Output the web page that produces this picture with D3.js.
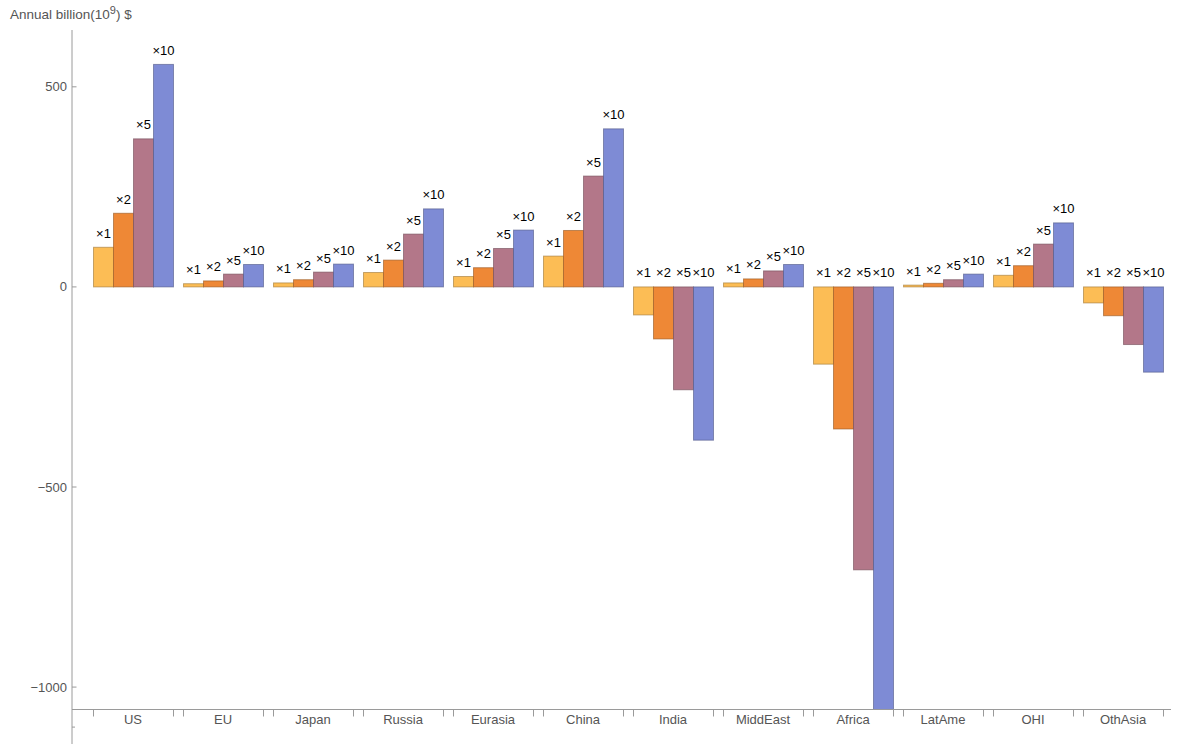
<!DOCTYPE html>
<html>
<head>
<meta charset="utf-8">
<script src="https://cdn.jsdelivr.net/npm/d3@7"></script>
<style>
  html, body { margin: 0; padding: 0; background: #fff; }
  svg text { font-family: "Liberation Sans", Arial, sans-serif; }
</style>
</head>
<body>
<svg id="chart" width="1177" height="744"></svg>
<script>
const categories = ["US","EU","Japan","Russia","Eurasia","China","India","MiddEast","Africa","LatAme","OHI","OthAsia"];
const seriesNames = ["×1","×2","×5","×10"];
const seriesColors = ["#FCBD55","#EE8836","#B37789","#7E8BD5"];
const valuesX1  = [99, 8, 10, 36, 26, 77, -70, 10, -193, 4.5, 29, -40];
const valuesX2  = [184, 15, 18, 67, 48, 141, -130, 20, -355, 9, 53, -72];
const valuesX5  = [370, 32, 37, 132, 96, 277, -257, 40, -707, 18, 107, -144];
const valuesX10 = [556, 56, 57, 195, 142, 395, -383, 56, -1100, 32, 160, -213];
const yTicks = [-1000, -500, 0, 500];
const allSeries = [valuesX1, valuesX2, valuesX5, valuesX10];

const svg = d3.select("#chart");
const axisColor = "#9a9a9a";
const labelColor = "#555";

const y = d3.scaleLinear().domain([-1056, 642]).range([709.5, 30]);
const x = d3.scaleBand().domain(categories).range([93, 1163]).paddingInner(1/9).paddingOuter(0);
const xs = d3.scaleBand().domain(d3.range(seriesNames.length)).range([0, x.bandwidth()]).padding(0);

const plotTop = y.range()[1], plotBottom = y.range()[0];

svg.append("defs").append("clipPath").attr("id", "clip")
  .append("rect").attr("x", 72).attr("y", plotTop - 40).attr("width", 1110).attr("height", plotBottom - plotTop + 40);

const data = [];
categories.forEach((c, i) => {
  allSeries.forEach((vals, j) => {
    data.push({cat: c, s: j, v: vals[i]});
  });
});

const g = svg.append("g").attr("clip-path", "url(#clip)");
g.selectAll("rect.bar").data(data).enter().append("rect")
  .attr("class", "bar")
  .attr("x", d => x(d.cat) + xs(d.s) + 0.5)
  .attr("width", xs.bandwidth())
  .attr("y", d => Math.min(y(d.v), y(0)))
  .attr("height", d => Math.abs(y(d.v) - y(0)))
  .attr("fill", d => seriesColors[d.s])
  .attr("stroke", d => d3.color(seriesColors[d.s]).darker(1.3))
  .attr("stroke-opacity", 0.6)
  .attr("stroke-width", 1);

// labels
svg.selectAll("text.lab").data(data).enter().append("text")
  .attr("class", "lab")
  .attr("x", d => x(d.cat) + xs(d.s) + xs.bandwidth() / 2 + 0.5)
  .attr("y", d => Math.min(y(d.v), y(0)) - 9.5)
  .attr("text-anchor", "middle")
  .attr("font-size", 13)
  .attr("fill", "#000")
  .text(d => seriesNames[d.s]);

// y axis
const axisX = 72;
svg.append("line").attr("x1", axisX).attr("x2", axisX).attr("y1", plotTop).attr("y2", 744)
  .attr("stroke", axisColor).attr("stroke-width", 1);
const yt = svg.append("g");
yt.selectAll("line").data(yTicks).enter().append("line")
  .attr("x1", axisX).attr("x2", axisX + 4.5)
  .attr("y1", d => y(d)).attr("y2", d => y(d))
  .attr("stroke", axisColor);
yt.selectAll("text").data(yTicks).enter().append("text")
  .attr("x", axisX - 5).attr("y", d => y(d) + 4.5)
  .attr("text-anchor", "end").attr("font-size", 13).attr("fill", labelColor)
  .text(d => d3.format("d")(d).replace("-", "\u2212"));
// small tick below the x axis
svg.append("line").attr("x1", axisX).attr("x2", axisX + 3).attr("y1", y(-1100)).attr("y2", y(-1100))
  .attr("stroke", axisColor);

// x axis
svg.append("line").attr("x1", axisX).attr("x2", 1171).attr("y1", plotBottom).attr("y2", plotBottom)
  .attr("stroke", axisColor).attr("stroke-width", 1);
const xt = svg.append("g");
const edges = [];
categories.forEach(c => { edges.push(x(c)); edges.push(x(c) + x.bandwidth()); });
xt.selectAll("line").data(edges).enter().append("line")
  .attr("x1", d => d + 0.5).attr("x2", d => d + 0.5)
  .attr("y1", plotBottom).attr("y2", plotBottom + 7)
  .attr("stroke", axisColor);
xt.selectAll("text").data(categories).enter().append("text")
  .attr("x", d => x(d) + x.bandwidth() / 2)
  .attr("y", plotBottom + 14.5)
  .attr("text-anchor", "middle").attr("font-size", 13).attr("fill", labelColor)
  .text(d => d);

// y axis title
const title = svg.append("text").attr("x", 10).attr("y", 19).attr("font-size", 13.5).attr("fill", labelColor);
title.append("tspan").text("Annual billion(10");
title.append("tspan").attr("dy", -5.5).attr("font-size", 11).text("9");
title.append("tspan").attr("dy", 5.5).text(") $");
</script>
</body>
</html>
